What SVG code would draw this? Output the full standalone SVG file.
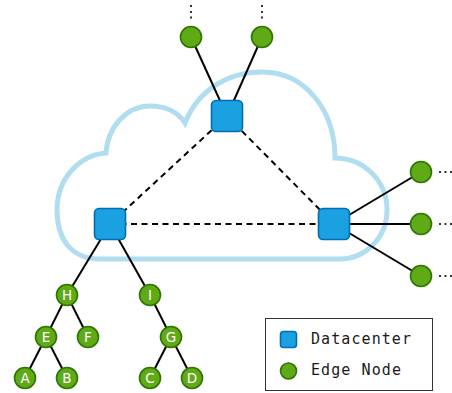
<svg xmlns="http://www.w3.org/2000/svg" width="452" height="393" viewBox="0 0 452 393">
<defs>
<style>
.cloud{fill:none;stroke:#b1ddf0;stroke-width:5;stroke-linejoin:miter}
.dc{fill:#1ba1e2;stroke:#006eaf;stroke-width:1.6}
.en{fill:#60a917;stroke:#2d7600;stroke-width:1.6}
.ln{stroke:#000;stroke-width:2;fill:none}
.dash{stroke:#000;stroke-width:2;fill:none;stroke-dasharray:6 4.5}
.dot{fill:#333}
.lbl{font-family:"DejaVu Sans",Verdana,sans-serif;font-size:13.5px;fill:#fff;text-anchor:middle}
.leg{font-family:"DejaVu Sans Mono","Liberation Mono",monospace;font-size:15px;fill:#1a1a1a}
</style>
</defs>
<rect width="452" height="393" fill="#fff"/>
<path class="cloud" d="M100 259 C72 259 57 240 57 210 C57 178 80 155 106 153 C108 125 128 106 150 106 C165 106 178 112 185 123 C198 90 228 72 262 72 C305 72 335 110 335 158 C363 158 387 180 387 210 C387 238 365 259 340 259 Z"/>
<g id="connectors">
<line class="dash" x1="227" y1="116" x2="110" y2="224"/>
<line class="dash" x1="227" y1="116" x2="334" y2="224"/>
<line class="dash" x1="110" y1="224" x2="334" y2="224"/>
<line class="ln" x1="227" y1="116" x2="191" y2="37"/>
<line class="ln" x1="227" y1="116" x2="262" y2="37"/>
<line class="ln" x1="334" y1="224" x2="421" y2="172"/>
<line class="ln" x1="334" y1="224" x2="421" y2="224"/>
<line class="ln" x1="334" y1="224" x2="421" y2="276"/>
<line class="ln" x1="110" y1="224" x2="67" y2="295"/>
<line class="ln" x1="110" y1="224" x2="150" y2="295"/>
<line class="ln" x1="67" y1="295" x2="46" y2="337"/>
<line class="ln" x1="67" y1="295" x2="88" y2="337"/>
<line class="ln" x1="46" y1="337" x2="25" y2="378"/>
<line class="ln" x1="46" y1="337" x2="67" y2="378"/>
<line class="ln" x1="150" y1="295" x2="171" y2="337"/>
<line class="ln" x1="171" y1="337" x2="150" y2="378"/>
<line class="ln" x1="171" y1="337" x2="192" y2="378"/>
</g>
<g id="dots">
<rect class="dot" x="190" y="5" width="2" height="2"/>
<rect class="dot" x="190" y="11" width="2" height="2"/>
<rect class="dot" x="190" y="16.5" width="2" height="2"/>
<rect class="dot" x="261" y="5" width="2" height="2"/>
<rect class="dot" x="261" y="11" width="2" height="2"/>
<rect class="dot" x="261" y="16.5" width="2" height="2"/>
<rect class="dot" x="439" y="171" width="2" height="2"/>
<rect class="dot" x="444.5" y="171" width="2" height="2"/>
<rect class="dot" x="450" y="171" width="2" height="2"/>
<rect class="dot" x="439" y="223" width="2" height="2"/>
<rect class="dot" x="444.5" y="223" width="2" height="2"/>
<rect class="dot" x="450" y="223" width="2" height="2"/>
<rect class="dot" x="439" y="275" width="2" height="2"/>
<rect class="dot" x="444.5" y="275" width="2" height="2"/>
<rect class="dot" x="450" y="275" width="2" height="2"/>
</g>
<g id="dc-top"><rect class="dc" x="211.5" y="100.5" width="31" height="31" rx="4.5"/></g>
<g id="dc-left"><rect class="dc" x="94.5" y="208.5" width="31" height="31" rx="4.5"/></g>
<g id="dc-right"><rect class="dc" x="318.5" y="208.5" width="31" height="31" rx="4.5"/></g>
<g id="edge-top1"><circle class="en" cx="191" cy="37" r="10.5"/></g>
<g id="edge-top2"><circle class="en" cx="262" cy="37" r="10.5"/></g>
<g id="edge-r1"><circle class="en" cx="421" cy="172" r="10.5"/></g>
<g id="edge-r2"><circle class="en" cx="421" cy="224" r="10.5"/></g>
<g id="edge-r3"><circle class="en" cx="421" cy="276" r="10.5"/></g>
<g id="node-H"><circle class="en" cx="67" cy="295" r="10.5"/><text class="lbl" x="67" y="300">H</text></g>
<g id="node-I"><circle class="en" cx="150" cy="295" r="10.5"/><text class="lbl" x="150" y="300">I</text></g>
<g id="node-E"><circle class="en" cx="46" cy="337" r="10.5"/><text class="lbl" x="46" y="342">E</text></g>
<g id="node-F"><circle class="en" cx="88" cy="337" r="10.5"/><text class="lbl" x="88" y="342">F</text></g>
<g id="node-G"><circle class="en" cx="171" cy="337" r="10.5"/><text class="lbl" x="171" y="342">G</text></g>
<g id="node-A"><circle class="en" cx="25" cy="378" r="10.5"/><text class="lbl" x="25" y="383">A</text></g>
<g id="node-B"><circle class="en" cx="67" cy="378" r="10.5"/><text class="lbl" x="67" y="383">B</text></g>
<g id="node-C"><circle class="en" cx="150" cy="378" r="10.5"/><text class="lbl" x="150" y="383">C</text></g>
<g id="node-D"><circle class="en" cx="192" cy="378" r="10.5"/><text class="lbl" x="192" y="383">D</text></g>
<g id="legend">
<rect x="265.5" y="318.5" width="167" height="72" fill="#fff" stroke="#333" stroke-width="1"/>
<rect class="dc" x="280.5" y="331.5" width="16" height="16" rx="3"/>
<circle class="en" cx="288.5" cy="371" r="8"/>
<text class="leg" x="311" y="344" textLength="100" lengthAdjust="spacing">Datacenter</text>
<text class="leg" x="311" y="375" textLength="90" lengthAdjust="spacing">Edge Node</text>
</g>
</svg>
